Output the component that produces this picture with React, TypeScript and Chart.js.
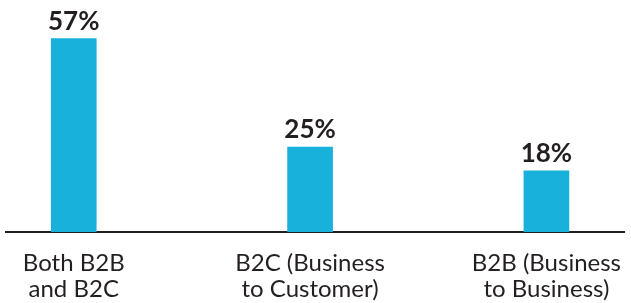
import React, { useEffect, useRef } from "react";
import { Chart, registerables } from "chart.js";

Chart.register(...registerables);

const categories: string[][] = [
  ["Both B2B", "and B2C"],
  ["B2C (Business", "to Customer)"],
  ["B2B (Business", "to Business)"],
];
const values: number[] = [57, 25, 18];
const valueLabels: string[] = ["57%", "25%", "18%"];

const BAR_COLOR = "#18b1dc";
const TEXT_COLOR = "#231f20";

const valueLabelPlugin = {
  id: "valueLabels",
  afterDatasetsDraw(chart: any) {
    const ctx = chart.ctx;
    const meta = chart.getDatasetMeta(0);
    ctx.save();
    ctx.font = "bold 26px Lato";
    ctx.fillStyle = TEXT_COLOR;
    ctx.textAlign = "center";
    ctx.textBaseline = "alphabetic";
    meta.data.forEach((bar: any, i: number) => {
      ctx.fillText(valueLabels[i], bar.x, bar.y - 9);
    });
    ctx.restore();
  },
};

export default function App() {
  const ref = useRef<HTMLCanvasElement | null>(null);
  useEffect(() => {
    if (!ref.current) return;
    const chart = new Chart(ref.current, {
      type: "bar",
      data: {
        datasets: [
          {
            data: values.map((v, i) => ({ x: i, y: v })),
            backgroundColor: BAR_COLOR,
            barThickness: 45,
          } as any,
        ],
      },
      options: {
        animation: false,
        responsive: false,
        maintainAspectRatio: false,
        layout: { padding: { left: 6, right: -5, top: 0, bottom: 0 } },
        plugins: { legend: { display: false }, tooltip: { enabled: false } },
        scales: {
          x: {
            type: "linear",
            offset: false,
            min: -0.2866,
            max: 2.3284,
            grid: { display: false, offset: false },
            border: { display: true, color: "#231f20", width: 2 },
            afterBuildTicks: (axis: any) => {
              axis.ticks = categories.map((_, i) => ({ value: i }));
            },
            afterFit: (axis: any) => {
              axis.height = 71;
            },
            ticks: {
              autoSkip: false,
              maxRotation: 0,
              minRotation: 0,
              padding: 10,
              color: TEXT_COLOR,
              font: { family: "Lato", size: 24, lineHeight: 1.1 },
              callback: (value: any) => categories[value as number],
            },
          },
          y: {
            display: false,
            min: 0,
            max: 68.4,
          },
        },
      },
      plugins: [valueLabelPlugin],
    });
    return () => chart.destroy();
  }, []);
  return (
    <div style={{ position: "fixed", left: 0, top: 0, width: 631, height: 303, background: "#fff" }}>
      <canvas ref={ref} width={631} height={303} style={{ width: 631, height: 303 }} />
    </div>
  );
}
